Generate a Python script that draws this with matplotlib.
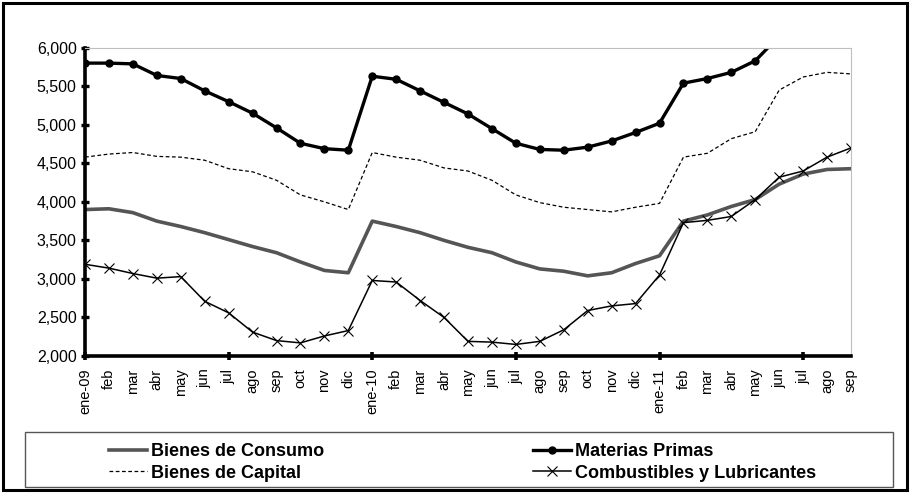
import matplotlib
matplotlib.use("Agg")
import matplotlib.pyplot as plt
from matplotlib.patches import Rectangle
from matplotlib.ticker import FuncFormatter

plt.rcParams["font.family"] = ["Liberation Sans", "DejaVu Sans"]

# month labels, ene-09 .. sep-11
MONTHS = ["ene-09", "feb", "mar", "abr", "may", "jun", "jul", "ago", "sep", "oct", "nov", "dic",
          "ene-10", "feb", "mar", "abr", "may", "jun", "jul", "ago", "sep", "oct", "nov", "dic",
          "ene-11", "feb", "mar", "abr", "may", "jun", "jul", "ago", "sep"]

CONSUMO = [3900, 3910, 3860, 3750, 3680, 3600, 3510, 3420, 3340, 3220, 3110, 3080,
           3750, 3680, 3600, 3500, 3410, 3340, 3220, 3130, 3100, 3040, 3080, 3200,
           3300, 3750, 3830, 3940, 4030, 4230, 4360, 4420, 4430]

MATERIAS = [5800, 5800, 5790, 5640, 5600, 5440, 5300, 5150, 4960, 4760, 4690, 4670,
            5630, 5590, 5440, 5290, 5140, 4950, 4760, 4680, 4670, 4710, 4790, 4900,
            5020, 5540, 5600, 5680, 5830, 6150, 6350, 6450, 6500]

CAPITAL = [4580, 4620, 4640, 4590, 4580, 4540, 4430, 4390, 4280, 4090, 4000, 3900,
           4640, 4580, 4540, 4440, 4400, 4280, 4090, 3990, 3930, 3900, 3870, 3930,
           3980, 4580, 4630, 4820, 4910, 5450, 5620, 5680, 5660]

COMBUSTIBLES = [3190, 3140, 3070, 3010, 3030, 2710, 2560, 2310, 2200, 2170, 2260, 2330,
                2980, 2960, 2720, 2500, 2190, 2180, 2150, 2190, 2340, 2590, 2650, 2680,
                3050, 3730, 3760, 3810, 4030, 4320, 4400, 4580, 4700]

Y_TICKS = [2000, 2500, 3000, 3500, 4000, 4500, 5000, 5500, 6000]
X_MARKS = [0, 6, 12, 18, 24, 30]  # ene / jul

W, H = 911, 493
fig = plt.figure(figsize=(W / 100, H / 100), dpi=100)
ax = fig.add_axes([85 / W, 1 - 356 / H, (851 - 85) / W, (356 - 47.7) / H])

x = list(range(len(MONTHS)))

l_cons, = ax.plot(x, CONSUMO, color="#555555", lw=2.6, solid_joinstyle="round",
                  label="Bienes de Consumo")
l_mat, = ax.plot(x, MATERIAS, color="black", lw=2.4, marker="o", ms=5,
                 label="Materias Primas")
l_cap, = ax.plot(x, CAPITAL, color="black", lw=0.9, ls=(0, (3, 2)),
                 label="Bienes de Capital")
l_comb, = ax.plot(x, COMBUSTIBLES, color="black", lw=1.1, marker="x", ms=7, mew=0.8,
                  label="Combustibles y Lubricantes")

ax.set_xlim(0, len(MONTHS) - 1)
ax.set_ylim(2000, 6000)

# spines
for s in ("left", "bottom"):
    ax.spines[s].set_linewidth(2.6)
    ax.spines[s].set_color("black")
for s in ("top", "right"):
    ax.spines[s].set_linewidth(0.8)
    ax.spines[s].set_color("#bfbfbf")

ax.set_yticks(Y_TICKS)
ax.yaxis.set_major_formatter(FuncFormatter(lambda v, p: f"{int(v):,}"))
ax.tick_params(axis="y", direction="inout", length=6, width=2.4, pad=3,
               labelsize=11.5, colors="black")

# month labels on every month, tick marks only at ene / jul
ax.xaxis.remove_overlapping_locs = False
ax.set_xticks(x)
ax.set_xticklabels(MONTHS, rotation=90)
ax.set_xticks(X_MARKS, minor=True)
ax.tick_params(axis="x", which="major", length=0, pad=9, labelsize=10.5)
ax.tick_params(axis="x", which="minor", direction="inout", length=6, width=2.6)

# legend
handles = [l_cons, l_cap, l_mat, l_comb]
leg = fig.legend(handles=handles, labels=[h.get_label() for h in handles],
                 ncol=2, frameon=False, loc="upper left",
                 bbox_to_anchor=(100 / W, 1 - 434 / H),
                 prop={"weight": "bold", "size": 13},
                 handlelength=2.1, handletextpad=0.2, columnspacing=11.6,
                 labelspacing=0.25, borderpad=0.0)

fig.add_artist(Rectangle((25 / W, 1 - 487 / H), (893 - 25) / W, (487 - 432) / H,
                         transform=fig.transFigure, fill=False, lw=1.0,
                         edgecolor="#555555"))
fig.add_artist(Rectangle((3 / W, 3 / H), (907 - 3) / W, (490 - 3) / H,
                         transform=fig.transFigure, fill=False, lw=2.2,
                         edgecolor="black"))

fig.savefig("out.png", dpi=100)
